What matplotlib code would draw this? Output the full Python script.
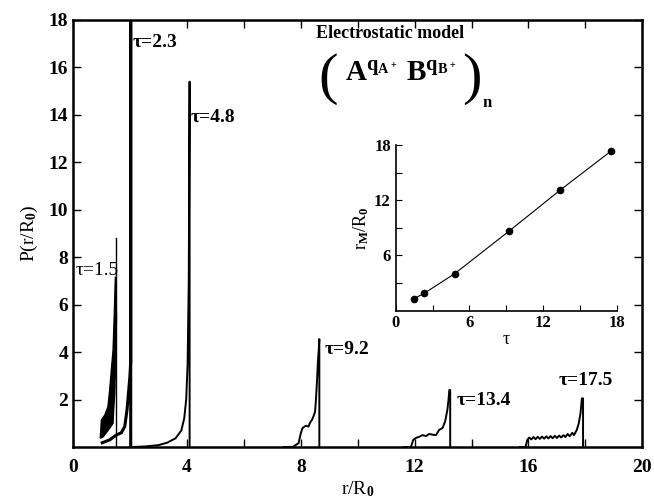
import numpy as np
import matplotlib
matplotlib.use('Agg')
import matplotlib.pyplot as plt

# inset data: r_M / R_0 against tau
tau = [1.5, 2.3, 4.8, 9.2, 13.4, 17.5]
r_M = [1.3, 1.85, 4.0, 8.6, 13.1, 17.3]

# tau = 1.5 : black band (outline) + spike
band_r = [0.95, 0.99, 1.11, 1.22, 1.28, 1.34, 1.40, 1.44, 1.48, 1.52, 1.49, 1.46, 1.42, 1.40, 1.28, 1.16, 1.05]
band_P = [0.37, 1.14, 1.35, 1.70, 2.40, 3.25, 4.09, 5.49, 7.18, 5.49, 3.67, 2.26, 1.56, 1.00, 0.79, 0.60, 0.43]
spike15_r = [1.51, 1.51]
spike15_P = [0.0, 8.8]

# tau = 2.3
r23 = [1.02, 1.28, 1.52, 1.69, 1.81, 1.89, 1.95, 1.99, 2.02, 2.02, 2.02]
P23 = [0.18, 0.30, 0.51, 0.60, 0.86, 1.56, 2.40, 2.96, 3.6, 19.0, 0.0]

# tau = 4.8
r48 = [2.0, 2.5, 3.0, 3.3, 3.6, 3.8, 3.9, 3.97, 4.02, 4.06, 4.09, 4.09]
P48 = [0.0, 0.02, 0.08, 0.18, 0.37, 0.70, 1.2, 2.0, 3.5, 7.0, 15.4, 0.0]

# tau = 9.2
r92 = [7.4, 7.71, 7.92, 8.0, 8.06, 8.18, 8.27, 8.32, 8.39, 8.45, 8.5, 8.53, 8.57, 8.6, 8.63, 8.65, 8.65]
P92 = [0.0, 0.0, 0.16, 0.59, 0.80, 0.90, 0.86, 1.02, 1.14, 1.31, 1.49, 1.98, 2.82, 3.6, 4.1, 4.55, 0.0]

# tau = 13.4
r134 = [11.6, 11.87, 11.95, 12.04, 12.16, 12.28, 12.4, 12.51, 12.63, 12.75, 12.86, 12.98, 13.07, 13.15, 13.19, 13.22, 13.25, 13.25]
P134 = [0.0, 0.0, 0.30, 0.38, 0.43, 0.50, 0.46, 0.55, 0.52, 0.50, 0.72, 0.80, 1.07, 1.56, 1.98, 2.4, 2.4, 0.0]

# tau = 17.5
r175 = [15.7, 15.9, 15.96, 16.03, 16.1, 16.18, 16.25, 16.33, 16.4, 16.48, 16.55, 16.63, 16.7, 16.78, 16.85,
        16.93, 17.0, 17.08, 17.15, 17.23, 17.3, 17.38, 17.45, 17.54, 17.6, 17.7, 17.77, 17.83, 17.88, 17.92, 17.92]
P175 = [0.0, 0.0, 0.30, 0.40, 0.32, 0.42, 0.33, 0.43, 0.34, 0.44, 0.35, 0.45, 0.36, 0.46, 0.37,
        0.47, 0.38, 0.48, 0.40, 0.50, 0.42, 0.55, 0.45, 0.60, 0.50, 0.72, 1.0, 1.42, 2.05, 2.05, 0.0]

# labels
tau_labels = ['τ=1.5', 'τ=2.3', 'τ=4.8', 'τ=9.2', 'τ=13.4', 'τ=17.5']
label_r = [0.09, 2.09, 4.12, 8.82, 13.49, 17.07]
label_P = [7.46, 17.07, 13.87, 4.09, 1.98, 2.82]

plt.rcParams['font.family'] = ['Liberation Serif', 'DejaVu Serif']
plt.rcParams['font.weight'] = 'bold'
plt.rcParams['mathtext.fontset'] = 'custom'
plt.rcParams['mathtext.rm'] = 'Liberation Serif:bold'
plt.rcParams['mathtext.it'] = 'Liberation Serif:bold'
plt.rcParams['mathtext.bf'] = 'Liberation Serif:bold'


def main():
    fig = plt.figure(figsize=(6.54, 5.0), dpi=100)
    ax = fig.add_axes([0.112, 0.106, 0.870, 0.854])

    lw = 1.4
    ax.fill(band_r, band_P, color='k', lw=1.0)
    ax.plot(spike15_r, spike15_P, color='k', lw=1.0)
    ax.plot(r23, P23, color='k', lw=2.2, solid_joinstyle='miter')
    ax.plot(r48, P48, color='k', lw=lw)
    ax.plot(r92, P92, color='k', lw=lw)
    ax.plot(r134, P134, color='k', lw=lw)
    ax.plot(r175, P175, color='k', lw=lw)

    for i in range(len(tau_labels)):
        w = 'normal' if i == 0 else 'bold'
        ax.text(label_r[i], label_P[i], tau_labels[i], fontsize=14, fontweight=w,
                va='center', ha='left')

    ax.set_xlim(0, 20)
    ax.set_ylim(0, 18)
    ax.set_xticks([0, 4, 8, 12, 16, 20])
    ax.set_xticks([2, 6, 10, 14, 18], minor=True)
    ax.set_yticks([2, 4, 6, 8, 10, 12, 14, 16, 18])
    ax.tick_params(which='both', direction='in', top=True, right=True, labelsize=14, width=1.0)
    ax.tick_params(which='both', length=6)
    ax.tick_params(axis='x', which='both', pad=9)
    for s in ax.spines.values():
        s.set_linewidth(1.8)
    ax.set_xlabel('r/R$_0$', fontsize=14, labelpad=2)
    ax.set_ylabel('P(r/R$_0$)', fontsize=14, labelpad=6)

    ax.text(0.556, 0.968, 'Electrostatic model', transform=ax.transAxes, fontsize=13,
            ha='center', va='center')
    ax.text(0.575, 0.874, r'$\mathrm{A}^{q_{A^+}}\;\mathrm{B}^{q_{B^+}}$', transform=ax.transAxes,
            fontsize=21, ha='center', va='center')
    ax.text(0.448, 0.862, '(', transform=ax.transAxes, fontsize=42, fontweight='normal',
            ha='center', va='center')
    ax.text(0.701, 0.862, ')', transform=ax.transAxes, fontsize=42, fontweight='normal',
            ha='center', va='center')
    ax.text(0.719, 0.806, 'n', transform=ax.transAxes, fontsize=12, ha='left', va='center')

    # inset
    axi = fig.add_axes([0.605, 0.379, 0.338, 0.331])
    axi.plot(tau, r_M, color='k', lw=0.8, marker='o', markersize=4.5)
    axi.set_xlim(0, 18)
    axi.set_ylim(0, 18)
    axi.set_xticks([0, 6, 12, 18])
    axi.set_xticks([3, 9, 15], minor=True)
    axi.set_yticks([6, 12, 18])
    axi.set_yticks([3, 9, 15], minor=True)
    axi.spines['top'].set_visible(False)
    axi.spines['right'].set_visible(False)
    axi.spines['left'].set_linewidth(1.2)
    axi.spines['bottom'].set_linewidth(1.2)
    axi.tick_params(which='both', direction='in', labelsize=12, length=4, width=0.8)
    axi.set_xlabel('τ', fontsize=13, labelpad=0)
    axi.set_ylabel('r$_M$/R$_0$', fontsize=13, labelpad=2)

    fig.savefig('out.png', dpi=100)


if __name__ == '__main__':
    main()
